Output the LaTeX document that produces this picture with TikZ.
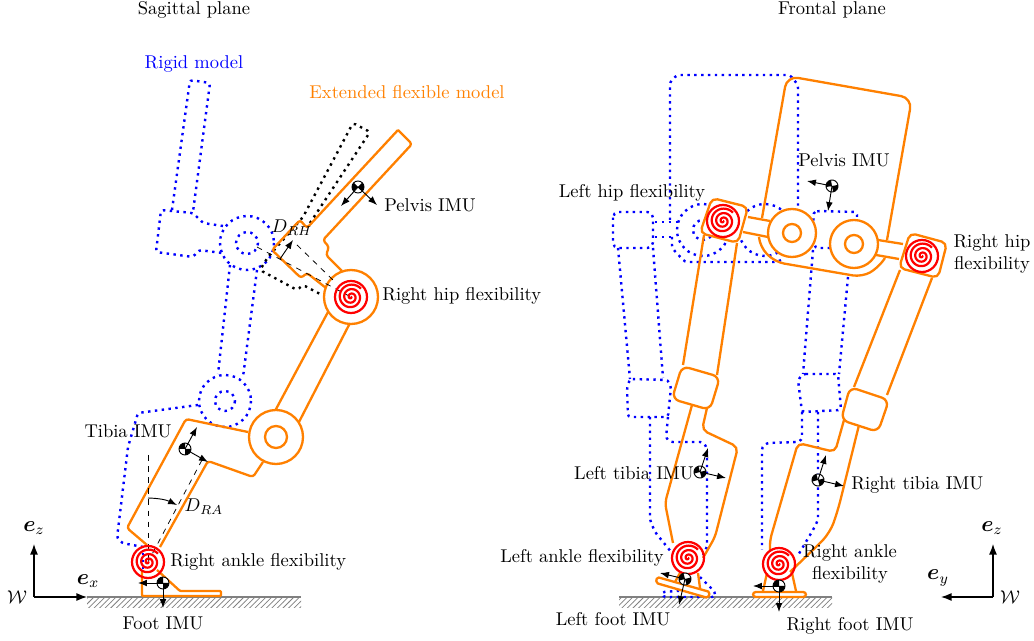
\documentclass[tikz,border=0pt]{standalone}
\usepackage{amsmath,amssymb}
\usetikzlibrary{arrows.meta}
\usetikzlibrary{patterns}
\definecolor{flexorange}{RGB}{255,128,0}
\tikzstyle{rigid} = [blue,line width=1.3pt,dash pattern=on 1.3pt off 2.4pt,rounded corners=1.5pt]
\tikzstyle{ghost} = [black,line width=1.3pt,dash pattern=on 1.3pt off 2.4pt,rounded corners=1.5pt]
\tikzstyle{flex} = [flexorange,line width=1.25pt,rounded corners=1.5pt,line join=round]
\tikzstyle{spring} = [red,line width=1.2pt]
\tikzstyle{imuaxis} = [black,line width=0.5pt,-{Latex[length=1.7mm]}]
\tikzstyle{frameaxis} = [black,line width=0.6pt,-{Latex[length=2mm]}]
\tikzstyle{hint} = [black,line width=0.4pt,dashed]
\tikzstyle{lbl} = [inner sep=0pt]
\newcommand\springat[2]{
	\draw[spring,shift={(#1,#2)}] plot[smooth,domain=0:1040,samples=90] ({\x/1040*13*cos(\x)},{\x/1040*13*sin(\x)});
	\draw[spring] (#1,#2) circle[radius=16];
}
\newcommand\imuat[4]{
	\coordinate (#1) at (#2,#3);
	\begin{scope}[shift={(#2,#3)},rotate=#4]
		\draw[black,fill=white,line width=0.5pt] (0,0) circle[radius=6];
		\fill[black] (0,0) -- (6,0) arc[start angle=0,end angle=90,radius=6] -- cycle;
		\fill[black] (0,0) -- (-6,0) arc[start angle=180,end angle=270,radius=6] -- cycle;
	\end{scope}
}
\newcommand\groundat[2]{
	\fill[pattern=north east lines,pattern color=gray] (#1,597) rectangle (#2,608);
	\draw[gray,line width=1.4pt] (#1,597) -- (#2,597);
}
\begin{document}
\begin{tikzpicture}[x=0.54pt,y=-0.54pt]
	\useasboundingbox (0,0) rectangle (1034,641);

	% sagittal plane
	\groundat{87}{301}
	\draw[rigid] (172,210)--(190,80)--(210,83)--(193,212);
	\draw[rigid] (223,226)--(203,223)--(193,213)--(161,210)--(156,252)--(193,257)--(199,250)--(222,253);
	\draw[rigid] (247,243) circle[radius=27];
	\draw[rigid] (247,243) circle[radius=11];
	\draw[rigid] (230,265)--(218,374);
	\draw[rigid] (257,270)--(243,377);
	\draw[rigid] (225,401) circle[radius=26];
	\draw[rigid] (225,401) circle[radius=10];
	\draw[rigid] (198,405)--(138,413)--(128,447)--(117,538)--(122,543)--(143,547);
	\draw[rigid] (143,553)--(143,570);
	\draw[ghost] (310,223)--(370,132)--(353,123)--(303,217)--(268,257)--(260,270)--(297,290)--(303,285)--(322,295);

	\draw[flex] (398,130)--(307,228)--(300,220)--(272,250)--(301,278)--(307,273)--(326,288);
	\draw[flex] (398,130)--(412,144)--(323,240)--(329,247)--(326,255)--(342,271);
	\draw[flex] (328,312)--(275,411);
	\draw[flex] (350,323)--(299,422);
	\draw[flex] (248,432)--(186,419)--(127,528)--(147,545);
	\draw[flex] (263,462)--(253,477)--(208,461)--(160,547);
	\draw[flex,fill=white] (351,297) circle[radius=27];
	\draw[flex,fill=white] (276,437) circle[radius=27];
	\draw[flex] (276,437) circle[radius=11];
	\draw[flex,rounded corners=0.5pt] (142,570)--(142,596)--(221,596)--(221,591)--(180,591)--(157,570);

	\draw[hint] (257,247)--(351,297);
	\draw[hint] (297,245)--(333,280);
	\draw[black,line width=0.5pt,-{Latex[length=1.7mm]}] (280,259)--(293,240);
	\draw[hint] (148,455)--(148,560);
	\draw[hint] (202,460)--(148,562);
	\draw[black,line width=0.5pt,-{Latex[length=1.7mm]}] (148,498) to[bend left=12] (177,505);

	\springat{351}{297}
	\springat{148}{562}

	\imuat{sagpelvis}{358}{187}{45}
	\draw[imuaxis] (sagpelvis) -- (341,206) coordinate (sagpelvisx);
	\draw[imuaxis] (sagpelvis) -- (377,205) coordinate (sagpelvisz);
	\imuat{sagtibia}{185}{449}{0}
	\draw[imuaxis] (sagtibia) -- (197,427) coordinate (sagtibiaz);
	\draw[imuaxis] (sagtibia) -- (208,462) coordinate (sagtibiax);
	\imuat{sagfoot}{163}{583}{0}
	\draw[imuaxis] (sagfoot) -- (138,583) coordinate (sagfootx);
	\draw[imuaxis] (sagfoot) -- (163,608) coordinate (sagfootz);

	\coordinate (sagorigin) at (34,597);
	\draw[frameaxis] (sagorigin) -- (34,544) coordinate (sagez);
	\draw[frameaxis] (sagorigin) -- (87,597) coordinate (sagex);

	% frontal plane
	\groundat{619}{832}
	\draw[rigid] (670,220)--(670,82)--(677,75)--(790,75)--(798,85)--(798,207);
	\draw[rigid,rounded corners=3pt] (613,212) rectangle (653,248);
	\draw[rigid] (655,222)--(680,222);
	\draw[rigid] (655,237)--(672,237);
	\draw[rigid] (703,230) circle[radius=26];
	\draw[rigid] (703,230) circle[radius=10];
	\draw[rigid] (765,230) circle[radius=26];
	\draw[rigid] (672,237)--(672,248)--(685,262)--(777,262)--(783,259);
	\draw[rigid] (830,248)--(815,248)--(813,213)--(817,211)--(857,212)--(857,217);
	\draw[rigid] (813,250)--(803,374);
	\draw[rigid] (848,277)--(839,374);
	\draw[rigid] (618,248)--(630,379);
	\draw[rigid] (653,248)--(663,378);
	\draw[rigid] (630,379)--(668,380)--(671,387)--(668,417)--(628,417)--(627,388)--cycle;
	\draw[rigid] (650,417)--(650,520)--(655,532)--(672,553);
	\draw[rigid] (668,417)--(666,438)--(670,442)--(703,442)--(707,448)--(707,547)--(703,555);
	\draw[rigid] (803,374)--(838,374)--(841,410)--(802,412)--(798,380)--cycle;
	\draw[rigid] (802,412)--(802,440)--(797,442)--(767,443)--(762,447)--(762,550);
	\draw[rigid] (818,412)--(818,520)--(813,530)--(797,557);
	\draw[rigid] (700,577)--(715,592)--(715,597)--(663,597)--(662,592)--(693,590);

	\draw[flex,rounded corners=6pt] (762,218)--(787,76)--(912,98)--(887,240);
	\draw[flex,rounded corners=5pt] (759,237)--(760,247)--(775,262)--(862,277)--(878,268)--(885,258);
	\draw[flex] (748,217)--(770,221);
	\draw[flex] (743,232)--(768,237);
	\draw[flex] (878,240)--(903,244);
	\draw[flex] (876,255)--(899,259);
	\draw[flex,fill=white] (792,233) circle[radius=24];
	\draw[flex] (792,233) circle[radius=9];
	\draw[flex,fill=white] (854,244) circle[radius=24];
	\draw[flex] (854,244) circle[radius=9];
	\draw[flex] (704,235)--(683,365);
	\draw[flex] (737,243)--(717,375);
	\draw[flex] (900,270)--(854,387);
	\draw[flex] (932,278)--(887,395);
	\draw[flex,rounded corners=3pt] (692,405)--(665,503)--(673,543);
	\draw[flex,rounded corners=3pt] (707,408)--(702,430)--(738,447)--(715,537)--(703,558);
	\draw[flex,rounded corners=3pt] (844,420)--(835,452)--(798,443)--(770,540)--(770,552);
	\draw[flex,rounded corners=6pt] (859,425)--(838,510)--(830,533)--(815,548)--(790,572);
	\draw[flex,fill=white,rounded corners=3pt] (712,198)--(748,207)--(738,243)--(700,233)--cycle;
	\draw[flex,fill=white,rounded corners=3pt] (910,233)--(947,243)--(938,278)--(899,268)--cycle;
	\draw[flex,fill=white,rounded corners=4pt] (682,366)--(720,377)--(710,410)--(672,399)--cycle;
	\draw[flex,fill=white,rounded corners=4pt] (850,387)--(889,400)--(878,432)--(841,420)--cycle;
	\draw[flex] (680,573)--(675,582);
	\draw[flex] (698,573)--(700,588);
	\draw[flex,fill=white,rounded corners=1pt] (657,577)--(710,592)--(708,598)--(656,583)--cycle;
	\draw[flex] (767,573)--(763,591);
	\draw[flex] (792,573)--(796,591);
	\draw[flex,fill=white] (753,592) rectangle (806,597);

	\springat{723}{221}
	\springat{922}{256}
	\springat{688}{558}
	\springat{779}{564}

	\imuat{frontpelvis}{832}{186}{10}
	\draw[imuaxis] (frontpelvis) -- (807,181) coordinate (frontpelvisy);
	\draw[imuaxis] (frontpelvis) -- (828,211) coordinate (frontpelvisz);
	\imuat{frontltibia}{700}{472}{15}
	\draw[imuaxis] (frontltibia) -- (708,448) coordinate (frontltibiaz);
	\draw[imuaxis] (frontltibia) -- (726,478) coordinate (frontltibiay);
	\imuat{frontrtibia}{818}{480}{15}
	\draw[imuaxis] (frontrtibia) -- (826,455) coordinate (frontrtibiaz);
	\draw[imuaxis] (frontrtibia) -- (844,486) coordinate (frontrtibiay);
	\imuat{frontlfoot}{685}{579}{15}
	\draw[imuaxis] (frontlfoot) -- (660,573) coordinate (frontlfooty);
	\draw[imuaxis] (frontlfoot) -- (679,605) coordinate (frontlfootz);
	\imuat{frontrfoot}{779}{586}{0}
	\draw[imuaxis] (frontrfoot) -- (753,586) coordinate (frontrfooty);
	\draw[imuaxis] (frontrfoot) -- (779,612) coordinate (frontrfootz);

	\coordinate (frontorigin) at (993,597);
	\draw[frameaxis] (frontorigin) -- (993,544) coordinate (frontez);
	\draw[frameaxis] (frontorigin) -- (941,597) coordinate (frontey);

	% labels
	\node[lbl] (sagtitle) at (194,10) {Sagittal plane};
	\node[lbl] (fronttitle) at (832,10) {Frontal plane};
	\node[lbl,text=blue] (rigidname) at (194,64) {Rigid model};
	\node[lbl,text=flexorange] (flexname) at (407,92) {Extended flexible model};
	\node[lbl,anchor=west] (sagpelvisname) at (384,205) {Pelvis IMU};
	\node[lbl,anchor=west] (saghipname) at (382,296) {Right hip flexibility};
	\node[lbl] (sagtibianame) at (128,431) {Tibia IMU};
	\node[lbl,anchor=west] (sagankname) at (170,562) {Right ankle flexibility};
	\node[lbl] (sagfootname) at (163,623) {Foot IMU};
	\node[lbl] (draname) at (204,507) {$D_{RA}$};
	\node[lbl] (drhname) at (292,228) {$D_{RH}$};
	\node[lbl] (sagw) at (17,597) {$\mathcal{W}$};
	\node[lbl,font=\large] (sagezname) at (34,528) {$\boldsymbol{e}_z$};
	\node[lbl,font=\large] (sagexname) at (88,581) {$\boldsymbol{e}_x$};
	\node[lbl] (frontpelvisname) at (844,160) {Pelvis IMU};
	\node[lbl] (lhipname) at (632,193) {Left hip flexibility};
	\node[lbl,align=center] (rhipname) at (992,254) {Right hip\\flexibility};
	\node[lbl] (ltibianame) at (634,473) {Left tibia IMU};
	\node[lbl,anchor=west] (rtibianame) at (851,485) {Right tibia IMU};
	\node[lbl] (lankname) at (582,558) {Left ankle flexibility};
	\node[lbl,align=center] (rankname) at (850,564) {Right ankle\\flexibility};
	\node[lbl] (lfootname) at (613,619) {Left foot IMU};
	\node[lbl] (rfootname) at (850,626) {Right foot IMU};
	\node[lbl] (frontw) at (1010,597) {$\mathcal{W}$};
	\node[lbl,font=\large] (frontezname) at (992,528) {$\boldsymbol{e}_z$};
	\node[lbl,font=\large] (markey) at (938,578) {$\boldsymbol{e}_y$};
\end{tikzpicture}
\end{document}
